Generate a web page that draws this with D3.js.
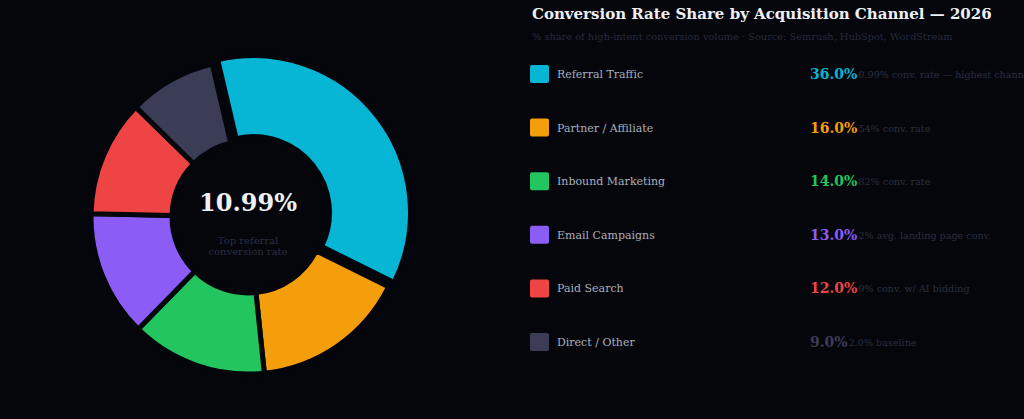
<!DOCTYPE html><html><head><meta charset="utf-8"><script src="https://cdn.jsdelivr.net/npm/d3@7"></script>
<style>body{margin:0;background:#05060b}svg{display:block}text{font-family:"DejaVu Serif",serif}</style></head><body><svg id="c" width="1024" height="419"></svg><script>
const channels=["Referral Traffic","Partner / Affiliate","Inbound Marketing","Email Campaigns","Paid Search","Direct / Other"];
const shares=[36,16,14,13,12,9];
const notes=["0.99% conv. rate — highest channel","54% conv. rate","82% conv. rate","2% avg. landing page conv.","9% conv. w/ AI bidding","2.0% baseline"];
const colors=["#06b6d4","#f59e0b","#22c55e","#8b5cf6","#ef4444","#3b3d56"];
const svg=d3.select("#c");const bg="#05060b";
const cx=248,cy=217;
const pie=d3.pie().sort(null).startAngle(-0.23).endAngle(-0.23+2*Math.PI)(shares);
const arc=d3.arc().innerRadius(76).outerRadius(157);
const g=svg.append("g").attr("transform",`translate(${cx},${cy})`);
g.selectAll("path").data(pie).join("path").attr("d",arc).attr("fill",(d,i)=>colors[i])
 .attr("stroke",bg).attr("stroke-width",5)
 .attr("transform",(d,i)=>{if(i!==0)return null;const m=(d.startAngle+d.endAngle)/2;return `translate(${Math.sin(m)*7},${-Math.cos(m)*7})`;});
g.append("text").attr("text-anchor","middle").attr("y",-6).attr("font-size",24).attr("font-weight","bold").attr("fill","#eef0f5").text("10.99%");
g.append("text").attr("text-anchor","middle").attr("y",27).attr("font-size",10).attr("fill","#2b2e42").text("Top referral");
g.append("text").attr("text-anchor","middle").attr("y",38).attr("font-size",10).attr("fill","#2b2e42").text("conversion rate");
svg.append("text").attr("x",532).attr("y",19).attr("font-size",15).attr("font-weight","bold").attr("fill","#eef0f5").text("Conversion Rate Share by Acquisition Channel — 2026");
svg.append("text").attr("x",532).attr("y",40).attr("font-size",9.8).attr("fill","#262a3e").text("% share of high-intent conversion volume  ·  Source: Semrush, HubSpot, WordStream");
const y=d3.scalePoint().domain(channels).range([74,342]);
const rows=svg.selectAll("g.r").data(channels).join("g").attr("class","r").attr("transform",d=>`translate(0,${y(d)})`);
rows.append("rect").attr("x",530).attr("y",-9).attr("width",19).attr("height",18).attr("rx",2).attr("fill",(d,i)=>colors[i]);
rows.append("text").attr("x",557).attr("y",4).attr("font-size",11).attr("fill","#a9b0bf").text(d=>d);
const vals=rows.append("text").attr("x",810).attr("y",5).attr("font-size",14).attr("font-weight","bold").attr("fill",(d,i)=>i===5?"#3b3d56":colors[i])
 .text((d,i)=>shares[i].toFixed(1)+"%");
vals.each(function(d,i){const w=this.getComputedTextLength();
 d3.select(this.parentNode).append("text").attr("x",810+w+1).attr("y",4).attr("font-size",9.6).attr("fill","#2b2e42").text(notes[i]);});
</script></body></html>
